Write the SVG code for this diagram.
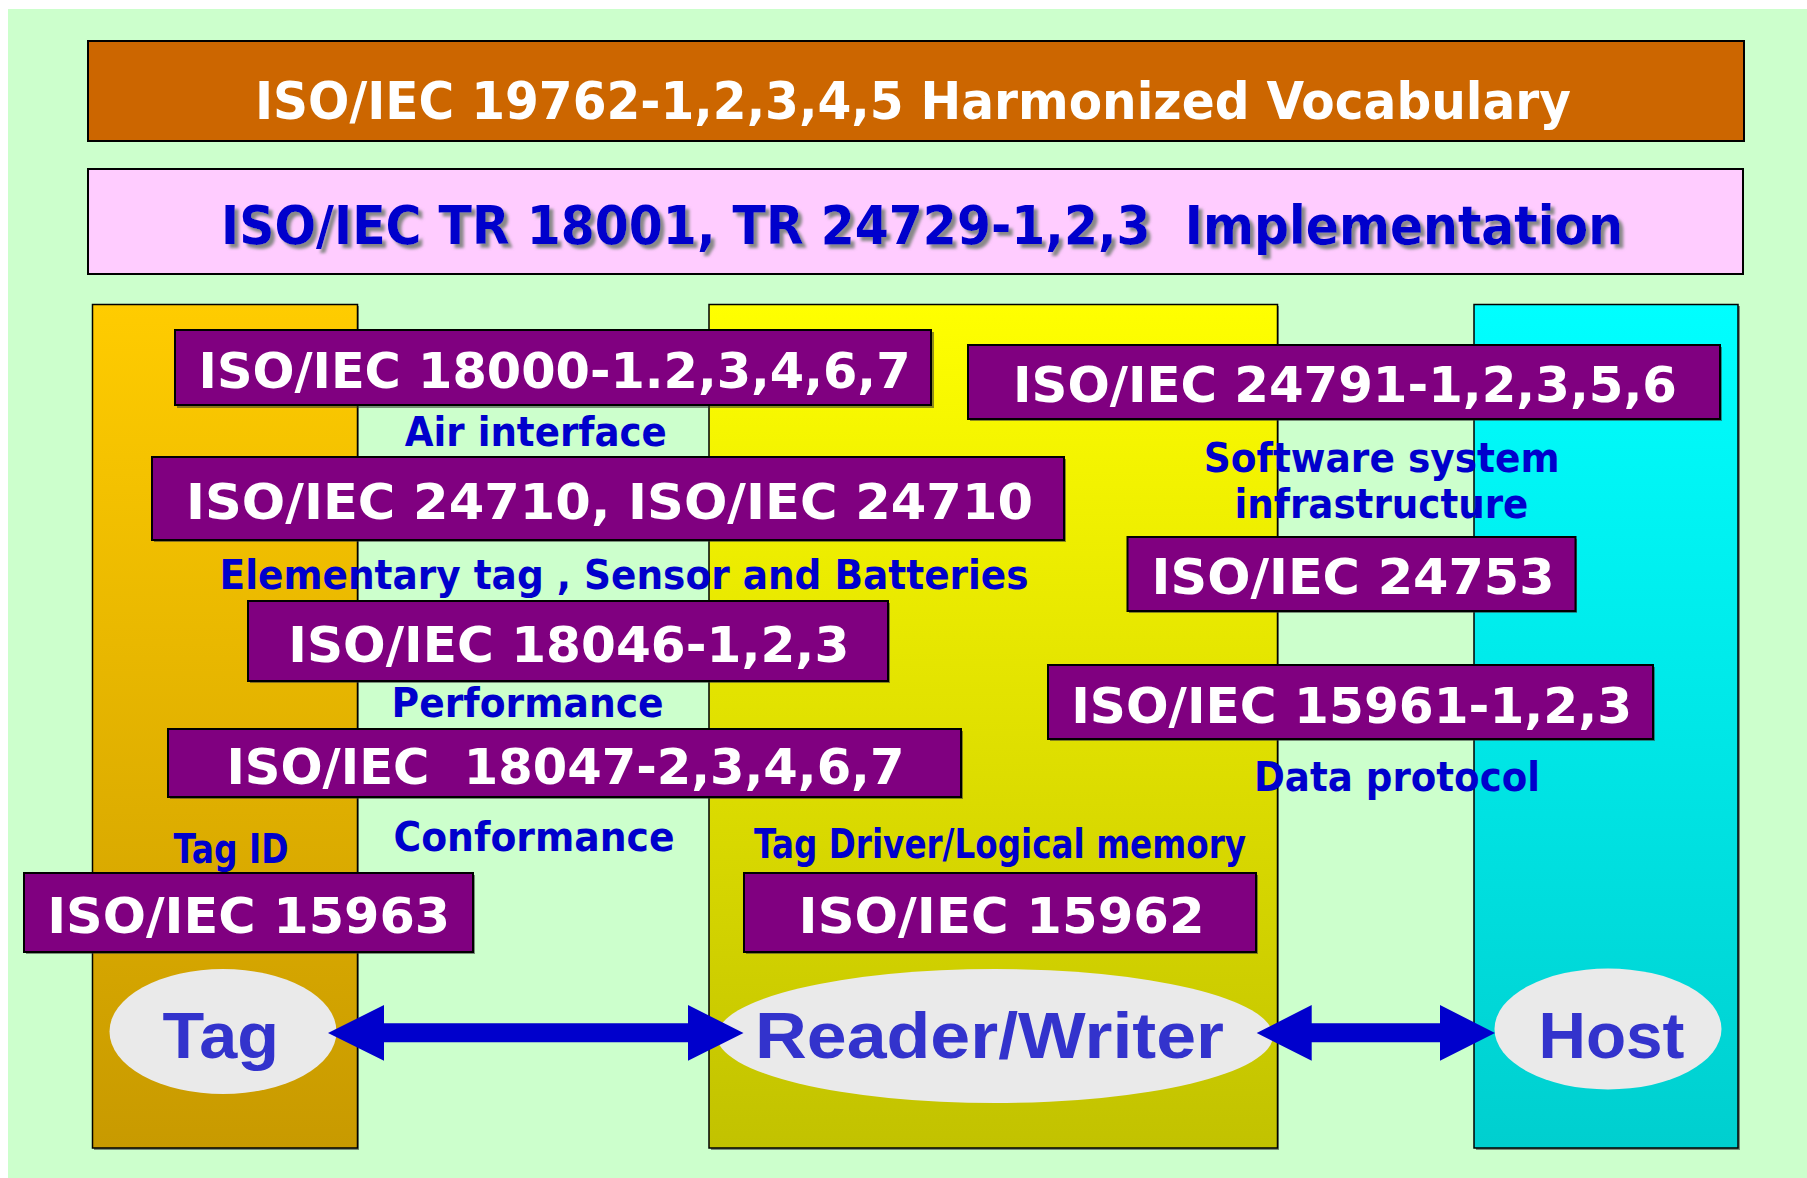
<svg xmlns="http://www.w3.org/2000/svg" width="1807" height="1178" viewBox="0 0 1807 1178">
  <style>
    .bold { font-family: "DejaVu Sans", Verdana, sans-serif; font-weight: bold; }
    .std { fill: #800080; stroke: #000; stroke-width: 2; }
    .std-text { fill: #fff; font-size: 50px; }
    .label { fill: #0000CC; font-size: 40px; }
    .col { stroke: #000; stroke-width: 1.5; }
    .shadow { fill: #333; opacity: 0.55; }
    .ent { fill: #EAEAEA; }
    .ent-text { font-family: "Liberation Sans", Arial, sans-serif; font-weight: bold; font-size: 65px; fill: #3333CC; }
    .arrow { fill: #0000CC; }
    .pre { white-space: pre; }
  </style>
  <defs>
    <linearGradient id="gTag" x1="0" y1="0" x2="0" y2="1">
      <stop offset="0" stop-color="#FFCC00"/>
      <stop offset="1" stop-color="#C89A00"/>
    </linearGradient>
    <linearGradient id="gReader" x1="0" y1="0" x2="0" y2="1">
      <stop offset="0" stop-color="#FFFF00"/>
      <stop offset="1" stop-color="#C2C200"/>
    </linearGradient>
    <linearGradient id="gHost" x1="0" y1="0" x2="0" y2="1">
      <stop offset="0" stop-color="#00FFFF"/>
      <stop offset="1" stop-color="#00CFCF"/>
    </linearGradient>
    <!-- soft grey drop shadow under the implementation heading -->
    <filter id="textShadow" x="-5%" y="-30%" width="110%" height="160%">
      <feDropShadow dx="4" dy="4" stdDeviation="1.5" flood-color="#888" flood-opacity="1"/>
    </filter>
  </defs>

  <!-- background -->
  <rect x="8" y="9" width="1799" height="1169" fill="#CCFFCC"/>

  <!-- vocabulary band -->
  <g id="vocabulary">
    <rect x="88" y="41" width="1656" height="100" fill="#CC6600" stroke="#000" stroke-width="2"/>
    <text class="bold" x="255" y="119" font-size="52" fill="#fff" textLength="1316" lengthAdjust="spacingAndGlyphs">ISO/IEC 19762-1,2,3,4,5 Harmonized Vocabulary</text>
  </g>

  <!-- implementation band -->
  <g id="implementation">
    <rect x="88" y="169" width="1655" height="105" fill="#FFCCFF" stroke="#000" stroke-width="2"/>
    <text class="bold pre" x="221" y="244" font-size="53" fill="#0000CC" filter="url(#textShadow)" textLength="1402" lengthAdjust="spacingAndGlyphs">ISO/IEC TR 18001, TR 24729-1,2,3  Implementation</text>
  </g>

  <!-- columns -->
  <g id="col-tag">
    <rect class="shadow" x="94" y="306" width="265" height="844"/>
    <rect class="col" x="92.5" y="304.5" width="265" height="843.5" fill="url(#gTag)"/>
  </g>
  <g id="col-reader">
    <rect class="shadow" x="711" y="306" width="568" height="844"/>
    <rect class="col" x="709" y="304.5" width="568.5" height="843.5" fill="url(#gReader)"/>
  </g>
  <g id="col-host">
    <rect class="shadow" x="1476" y="306" width="264" height="844"/>
    <rect class="col" x="1474" y="304.5" width="264" height="843.5" fill="url(#gHost)"/>
  </g>

  <!-- standards -->
  <g id="std-18000">
    <rect class="shadow" x="177" y="332" width="757" height="76"/>
    <rect class="std" x="175" y="330" width="756" height="75"/>
    <text class="bold std-text" x="198.5" y="387.7" textLength="712" lengthAdjust="spacingAndGlyphs">ISO/IEC 18000-1.2,3,4,6,7</text>
  </g>
  <g id="std-24791">
    <rect class="shadow" x="970" y="347" width="752" height="74"/>
    <rect class="std" x="968" y="345" width="752" height="74"/>
    <text class="bold std-text" x="1013" y="402.3" textLength="664" lengthAdjust="spacingAndGlyphs">ISO/IEC 24791-1,2,3,5,6</text>
  </g>
  <g id="std-24710">
    <rect class="shadow" x="154" y="459" width="912" height="83"/>
    <rect class="std" x="152" y="457" width="912" height="83"/>
    <text class="bold std-text" x="186" y="519.3" textLength="847" lengthAdjust="spacingAndGlyphs">ISO/IEC 24710, ISO/IEC 24710</text>
  </g>
  <g id="std-24753">
    <rect class="shadow" x="1129" y="539" width="448" height="74"/>
    <rect class="std" x="1127.5" y="537" width="448" height="74"/>
    <text class="bold std-text" x="1151.6" y="594.3" textLength="403" lengthAdjust="spacingAndGlyphs">ISO/IEC 24753</text>
  </g>
  <g id="std-18046">
    <rect class="shadow" x="250" y="603" width="640" height="80"/>
    <rect class="std" x="248" y="601" width="640" height="80"/>
    <text class="bold std-text" x="288.3" y="662.3" textLength="561" lengthAdjust="spacingAndGlyphs">ISO/IEC 18046-1,2,3</text>
  </g>
  <g id="std-15961">
    <rect class="shadow" x="1050" y="667" width="605" height="74"/>
    <rect class="std" x="1048" y="665" width="605" height="74"/>
    <text class="bold std-text" x="1071.2" y="722.7" textLength="561" lengthAdjust="spacingAndGlyphs">ISO/IEC 15961-1,2,3</text>
  </g>
  <g id="std-18047">
    <rect class="shadow" x="170" y="731" width="793" height="68"/>
    <rect class="std" x="168" y="729" width="793" height="68"/>
    <text class="bold std-text pre" x="226.4" y="784" textLength="678" lengthAdjust="spacingAndGlyphs">ISO/IEC  18047-2,3,4,6,7</text>
  </g>
  <g id="std-15963">
    <rect class="shadow" x="26" y="875" width="449" height="79"/>
    <rect class="std" x="24" y="873" width="449" height="79"/>
    <text class="bold std-text" x="47.2" y="933.3" textLength="403" lengthAdjust="spacingAndGlyphs">ISO/IEC 15963</text>
  </g>
  <g id="std-15962">
    <rect class="shadow" x="746" y="875" width="512" height="79"/>
    <rect class="std" x="744" y="873" width="512" height="79"/>
    <text class="bold std-text" x="798.6" y="933" textLength="406" lengthAdjust="spacingAndGlyphs">ISO/IEC 15962</text>
  </g>

  <!-- scope labels -->
  <g id="labels" class="bold label">
    <text x="404.8" y="445.7" textLength="262" lengthAdjust="spacingAndGlyphs">Air interface</text>
    <text x="219.6" y="589" textLength="809" lengthAdjust="spacingAndGlyphs">Elementary tag , Sensor and Batteries</text>
    <text x="1203.7" y="471.7" textLength="356" lengthAdjust="spacingAndGlyphs">Software system</text>
    <text x="1234.4" y="517.7" textLength="294" lengthAdjust="spacingAndGlyphs">infrastructure</text>
    <text x="391.6" y="717.3" textLength="272" lengthAdjust="spacingAndGlyphs">Performance</text>
    <text x="1254" y="791" textLength="286" lengthAdjust="spacingAndGlyphs">Data protocol</text>
    <text x="393.5" y="851" textLength="281" lengthAdjust="spacingAndGlyphs">Conformance</text>
    <text x="173.5" y="862.7" textLength="115" lengthAdjust="spacingAndGlyphs">Tag ID</text>
    <text x="754" y="857.7" textLength="492" lengthAdjust="spacingAndGlyphs">Tag Driver/Logical memory</text>
  </g>

  <!-- entities -->
  <g id="tag">
    <ellipse class="ent" cx="223" cy="1031.5" rx="113.5" ry="62.5"/>
    <text class="ent-text" x="162.5" y="1058.3" textLength="116.5" lengthAdjust="spacingAndGlyphs">Tag</text>
  </g>
  <g id="reader-writer">
    <ellipse class="ent" cx="995" cy="1036" rx="278" ry="67"/>
    <text class="ent-text" x="755" y="1058.3" textLength="469" lengthAdjust="spacingAndGlyphs">Reader/Writer</text>
  </g>
  <g id="host">
    <ellipse class="ent" cx="1608" cy="1029" rx="113.5" ry="60.5"/>
    <text class="ent-text" x="1538.5" y="1058.3" textLength="146" lengthAdjust="spacingAndGlyphs">Host</text>
  </g>

  <!-- connectors -->
  <g id="connectors">
    <polygon class="arrow" points="328,1033 384,1005 384,1023.3 688,1023.3 688,1005 743.5,1033 688,1060.7 688,1042.3 384,1042.3 384,1060.7"/>
    <polygon class="arrow" points="1256.7,1033 1311.7,1005 1311.7,1023.3 1440,1023.3 1440,1005 1495,1033 1440,1060.7 1440,1042.3 1311.7,1042.3 1311.7,1060.7"/>
  </g>
</svg>
